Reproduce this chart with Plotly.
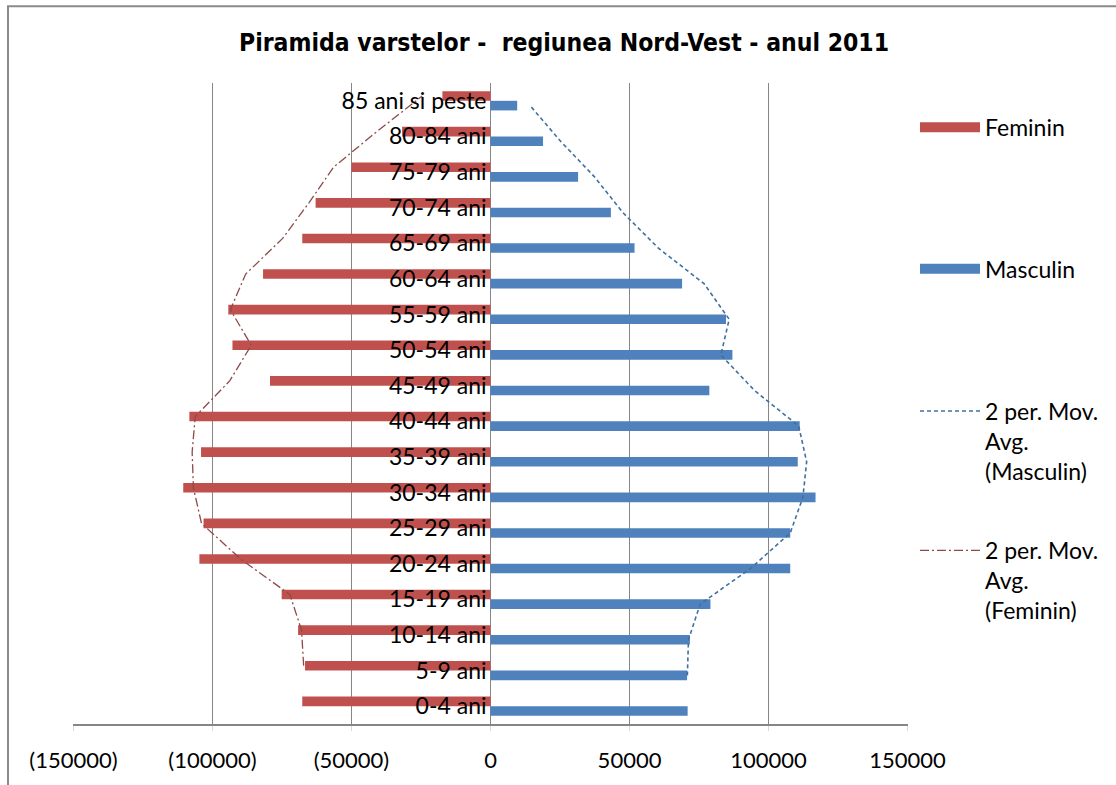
import pandas as pd
import plotly.graph_objects as go

# Age groups, listed bottom to top as they appear on the pyramid
categories = [
    "0-4 ani", "5-9 ani", "10-14 ani", "15-19 ani", "20-24 ani", "25-29 ani",
    "30-34 ani", "35-39 ani", "40-44 ani", "45-49 ani", "50-54 ani", "55-59 ani",
    "60-64 ani", "65-69 ani", "70-74 ani", "75-79 ani", "80-84 ani", "85 ani si peste",
]
feminin = [67700, 66700, 69200, 75100, 104700, 103200, 110500, 104100, 108300,
           79300, 92800, 94300, 81800, 67700, 62900, 50000, 31800, 17300]
masculin = [70900, 70700, 71700, 79100, 107800, 107800, 116900, 110500, 111200,
            78700, 87000, 84700, 68900, 51800, 43300, 31500, 18900, 9600]

x_tick_vals = [-150000, -100000, -50000, 0, 50000, 100000, 150000]
x_tick_text = ["(150000)", "(100000)", "(50000)", "0", "50000", "100000", "150000"]

TITLE = "Piramida varstelor -  regiunea Nord-Vest - anul 2011"

# Styling
RED = "#C0504D"
BLUE = "#4F81BD"
GRID = "#868686"
BAR_W = 0.27          # bar thickness in category units
LABEL_FONT = "Lato, 'Open Sans', sans-serif"
W, H = 1116, 785
M_L, M_R, M_T, M_B = 73, 208, 83, 58
PLOT_W = W - M_L - M_R
PLOT_H = H - M_T - M_B


def px_x(px):
    """Pixel column -> paper x."""
    return (px - M_L) / PLOT_W


def px_y(py):
    """Pixel row -> paper y."""
    return (H - M_B - py) / PLOT_H


pos = list(range(len(categories)))

# Two-period moving averages (mean of each age group and the one below it)
ma_fem = pd.Series(feminin).rolling(2).mean()
ma_masc = pd.Series(masculin).rolling(2).mean()

fig = go.Figure()

# Masculin bars sit just below each category line, Feminin just above
fig.add_trace(go.Bar(
    y=pos, x=masculin, orientation="h", width=BAR_W, offset=-BAR_W,
    marker=dict(color=BLUE, line=dict(width=0)), name="Masculin",
    showlegend=False,
))
fig.add_trace(go.Bar(
    y=pos, x=[-v for v in feminin], orientation="h", width=BAR_W, offset=0,
    marker=dict(color=RED, line=dict(width=0)), name="Feminin",
    showlegend=False,
))

# Trend lines follow the centre of their own series' bars
fig.add_trace(go.Scatter(
    y=[p - BAR_W / 2 for p in pos], x=ma_masc, mode="lines",
    line=dict(color="#41709F", width=1.6, dash="4px,3px"),
    name="2 per. Mov.<br>Avg.<br>(Masculin)", legend="legend3",
))
fig.add_trace(go.Scatter(
    y=[p + BAR_W / 2 for p in pos], x=-ma_fem, mode="lines",
    line=dict(color="#8C4A48", width=1.3, dash="9px,3px,2px,3px"),
    name="2 per. Mov.<br>Avg.<br>(Feminin)", legend="legend4",
))

# Legend swatches for the bar series (wide rectangles)
fig.add_trace(go.Scatter(
    x=[None], y=[None], mode="lines", line=dict(color=RED, width=15),
    name="Feminin", legend="legend",
))
fig.add_trace(go.Scatter(
    x=[None], y=[None], mode="lines", line=dict(color=BLUE, width=15),
    name="Masculin", legend="legend2",
))

legend_common = dict(
    xanchor="left", yanchor="top", bgcolor="rgba(0,0,0,0)",
    font=dict(family=LABEL_FONT, size=23, color="black"),
    itemwidth=60, valign="top", tracegroupgap=0,
)

fig.update_layout(
    width=W, height=H,
    margin=dict(l=M_L, r=M_R, t=M_T, b=M_B),
    paper_bgcolor="white", plot_bgcolor="white",
    barmode="overlay",
    title=dict(
        text=TITLE, xref="container", x=564 / W, xanchor="center",
        yref="container", y=1 - 42 / H, yanchor="middle",
        font=dict(family="'Liberation Sans Narrow', 'Arial Narrow', 'DejaVu Sans Condensed', sans-serif",
                  size=24.5, color="black", weight="bold"),
    ),
    xaxis=dict(
        range=[-150150, 150150], tickvals=x_tick_vals, ticktext=x_tick_text,
        showgrid=True, gridcolor=GRID, gridwidth=1,
        zeroline=True, zerolinecolor=GRID, zerolinewidth=1,
        showline=True, linecolor=GRID, linewidth=1.5,
        ticks="outside", ticklen=5, tickcolor="#DADADA",
        ticklabelstandoff=11,
        tickfont=dict(family=LABEL_FONT, size=22, color="black"),
        fixedrange=True,
    ),
    yaxis=dict(
        range=[-0.5, len(categories) - 0.5],
        tickvals=pos, ticktext=categories,
        anchor="free", position=0.5, automargin=False,
        showgrid=False, zeroline=False, showline=False, ticks="",
        ticklabelstandoff=4,
        tickfont=dict(family=LABEL_FONT, size=23, color="black"),
        fixedrange=True,
    ),
    legend=dict(x=px_x(915), y=px_y(106), **legend_common),
    legend2=dict(x=px_x(915), y=px_y(248), **legend_common),
    legend3=dict(x=px_x(915), y=px_y(391), **legend_common),
    legend4=dict(x=px_x(915), y=px_y(531), **legend_common),
    shapes=[dict(
        type="rect", xref="paper", yref="paper",
        x0=px_x(8), x1=px_x(1130), y0=px_y(6), y1=px_y(800),
        line=dict(color="#8A8A8A", width=2), fillcolor="rgba(0,0,0,0)",
        layer="below",
    )],
)

fig.write_html("out.html")
